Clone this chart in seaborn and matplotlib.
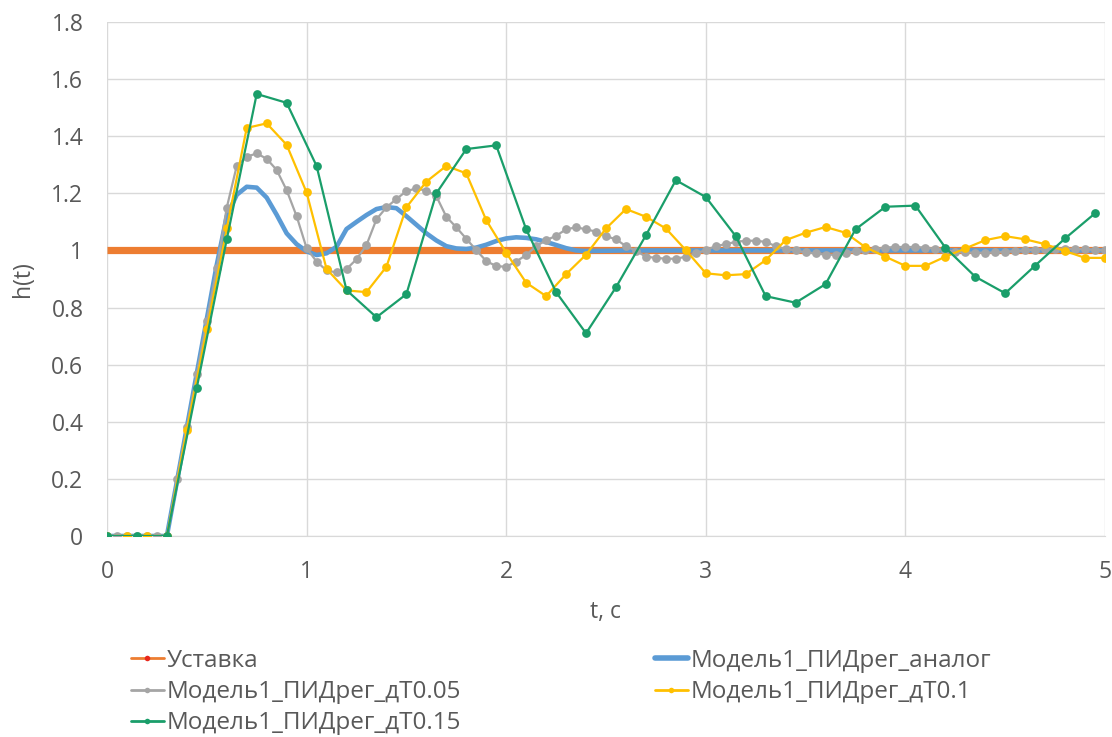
import numpy as np
import pandas as pd
import seaborn as sns
import matplotlib
matplotlib.use("Agg")
import matplotlib.pyplot as plt
from matplotlib.lines import Line2D

# ---------------- data ----------------
labels = ["Уставка", "Модель1_ПИДрег_аналог", "Модель1_ПИДрег_дТ0.05",
          "Модель1_ПИДрег_дТ0.1", "Модель1_ПИДрег_дТ0.15"]

setpoint_t = [0.0, 5.0]
setpoint_v = [1.0, 1.0]

analog_t = [0.0, 0.3, 0.35, 0.4, 0.45, 0.5, 0.55, 0.6, 0.65, 0.7, 0.75, 0.8, 0.85,
            0.9, 0.95, 1.0, 1.05, 1.1, 1.15, 1.2, 1.25, 1.3, 1.35, 1.4, 1.45, 1.5,
            1.55, 1.6, 1.65, 1.7, 1.75, 1.8, 1.85, 1.9, 1.95, 2.0, 2.05, 2.1, 2.15,
            2.2, 2.25, 2.3, 2.35, 2.4, 2.6, 3.0, 4.0, 5.0]
analog_v = [0.0, 0.0, 0.19, 0.38, 0.57, 0.76, 0.95, 1.12, 1.195, 1.223, 1.22, 1.185, 1.125,
            1.06, 1.022, 0.997, 0.984, 0.99, 1.013, 1.075, 1.10, 1.124, 1.145, 1.152, 1.148,
            1.12, 1.09, 1.06, 1.035, 1.015, 1.007, 1.005, 1.01, 1.02, 1.033, 1.042,
            1.046, 1.044, 1.039, 1.03, 1.019, 1.008, 1.0, 0.998, 1.0, 1.0, 1.0, 1.0]

dt05_t = np.round(np.arange(0, 101) * 0.05, 2)
dt05_v = [0, 0, 0, 0, 0, 0, 0, 0.198, 0.38, 0.567, 0.754, 0.937, 1.15, 1.296, 1.328,
          1.340, 1.321, 1.282, 1.211, 1.12, 1.008, 0.961, 0.93, 0.923, 0.935, 0.969,
          1.019, 1.109, 1.151, 1.18, 1.208, 1.217, 1.209, 1.19, 1.118, 1.081, 1.041,
          1.001, 0.963, 0.945, 0.943, 0.961, 0.984, 1.015, 1.036, 1.051, 1.074, 1.081,
          1.074, 1.066, 1.05, 1.039, 1.015, 0.999, 0.978, 0.974, 0.971, 0.971, 0.978,
          0.99, 1.001, 1.015, 1.022, 1.03, 1.034, 1.034, 1.03, 1.015, 1.005, 1.0, 0.993,
          0.99, 0.985, 0.985, 0.99, 0.997, 1.003,
          1.005, 1.01, 1.012, 1.012, 1.012, 1.01, 1.006, 1.0, 0.996, 0.993, 0.992, 0.992,
          0.993, 0.995, 0.998, 1.0, 1.003, 1.005, 1.006, 1.006, 1.005, 1.004, 1.002, 1.0]

dt1_t = np.round(np.arange(0, 51) * 0.1, 2)
dt1_v = [0, 0, 0, 0, 0.372, 0.724, 1.077, 1.429, 1.445, 1.370, 1.203,
         0.935, 0.86, 0.854, 0.943, 1.151, 1.241, 1.296, 1.270, 1.106, 0.992,
         0.887, 0.840, 0.917, 0.985, 1.077, 1.145, 1.118, 1.077, 1.001, 0.920,
         0.913, 0.917, 0.966, 1.036, 1.062, 1.082, 1.062, 1.011, 0.978, 0.946,
         0.946, 0.978, 1.007, 1.036, 1.050, 1.039, 1.022, 0.998, 0.974, 0.974]

dt15_t = np.round(np.arange(0, 34) * 0.15, 2)
dt15_v = [0, 0, 0, 0.52, 1.039, 1.548, 1.517, 1.296, 0.861, 0.766, 0.847, 1.200,
          1.355, 1.368, 1.074, 0.854, 0.710, 0.871, 1.053, 1.246, 1.187, 1.050,
          0.840, 0.817, 0.882, 1.074, 1.153, 1.157, 1.010, 0.908, 0.850, 0.947,
          1.042, 1.130]

xticks = [0, 1, 2, 3, 4, 5]
yticks = [0, 0.2, 0.4, 0.6, 0.8, 1, 1.2, 1.4, 1.6, 1.8]
ytick_labels = ["0", "0.2", "0.4", "0.6", "0.8", "1", "1.2", "1.4", "1.6", "1.8"]

# ---------------- style ----------------
sns.set_style("white")
plt.rcParams["font.family"] = ["Open Sans", "DejaVu Sans"]
TXT = "#595959"
c_orange, c_blue, c_gray, c_yellow, c_green = "#ED7D31", "#5B9BD5", "#A5A5A5", "#FFC000", "#1A9E6A"

fig = plt.figure(figsize=(11.12, 7.37), dpi=100)
ax = fig.add_axes([107 / 1112, 1 - 536 / 737, (1105 - 107) / 1112, (536 - 22) / 737])

def frame(t, v):
    return pd.DataFrame({"t": t, "v": v})

sns.lineplot(data=frame(setpoint_t, setpoint_v), x="t", y="v", ax=ax, color=c_orange,
             lw=5.2, solid_capstyle="butt", zorder=2)
sns.lineplot(data=frame(analog_t, analog_v), x="t", y="v", ax=ax, color=c_blue,
             lw=3.3, zorder=3)
mk = dict(marker="o", markersize=6.3, markeredgewidth=0, lw=1.6)
sns.lineplot(data=frame(dt05_t, dt05_v), x="t", y="v", ax=ax, color=c_gray, zorder=4, **mk)
sns.lineplot(data=frame(dt1_t, dt1_v), x="t", y="v", ax=ax, color=c_yellow, zorder=5, **mk)
sns.lineplot(data=frame(dt15_t, dt15_v), x="t", y="v", ax=ax, color=c_green, zorder=6, **mk)

ax.set_xlim(0, 5)
ax.set_ylim(0, 1.8)
ax.set_xticks(xticks)
ax.set_yticks(yticks)
ax.set_yticklabels(ytick_labels)
ax.grid(True, color="#D9D9D9", lw=1)
ax.set_axisbelow(True)
for s in ["top", "right", "left"]:
    ax.spines[s].set_visible(False)
ax.spines["bottom"].set_color("#D9D9D9")
ax.tick_params(axis="both", length=0, labelsize=16.5, colors=TXT, pad=17)
ax.set_xlabel("t, c", fontsize=16.5, color=TXT, labelpad=12)
ax.set_ylabel("h(t)", fontsize=16.5, color=TXT, labelpad=12)

h_orange = Line2D([], [], color=c_orange, lw=2, marker="o", markersize=4,
                  markerfacecolor="#E8281C", markeredgewidth=0)
h_blue = Line2D([], [], color=c_blue, lw=4)
h_gray = Line2D([], [], color=c_gray, lw=2, marker="o", markersize=4, markeredgewidth=0)
h_yellow = Line2D([], [], color=c_yellow, lw=2, marker="o", markersize=4, markeredgewidth=0)
h_green = Line2D([], [], color=c_green, lw=2, marker="o", markersize=4, markeredgewidth=0)
# column-major order so rows read: Уставка | аналог ; дТ0.05 | дТ0.1 ; дТ0.15
handles = [h_orange, h_gray, h_green, h_blue, h_yellow]
leg_labels = [labels[0], labels[2], labels[4], labels[1], labels[3]]
leg = fig.legend(handles, leg_labels, ncol=2, loc="upper left",
                 bbox_to_anchor=(131 / 1112, 1 - 649 / 737),
                 frameon=False, fontsize=17.5, handlelength=1.35, handletextpad=0.1,
                 columnspacing=8.0, labelspacing=0.29, borderpad=0, borderaxespad=0)
for t in leg.get_texts():
    t.set_color(TXT)

fig.savefig("out.png", dpi=100)
